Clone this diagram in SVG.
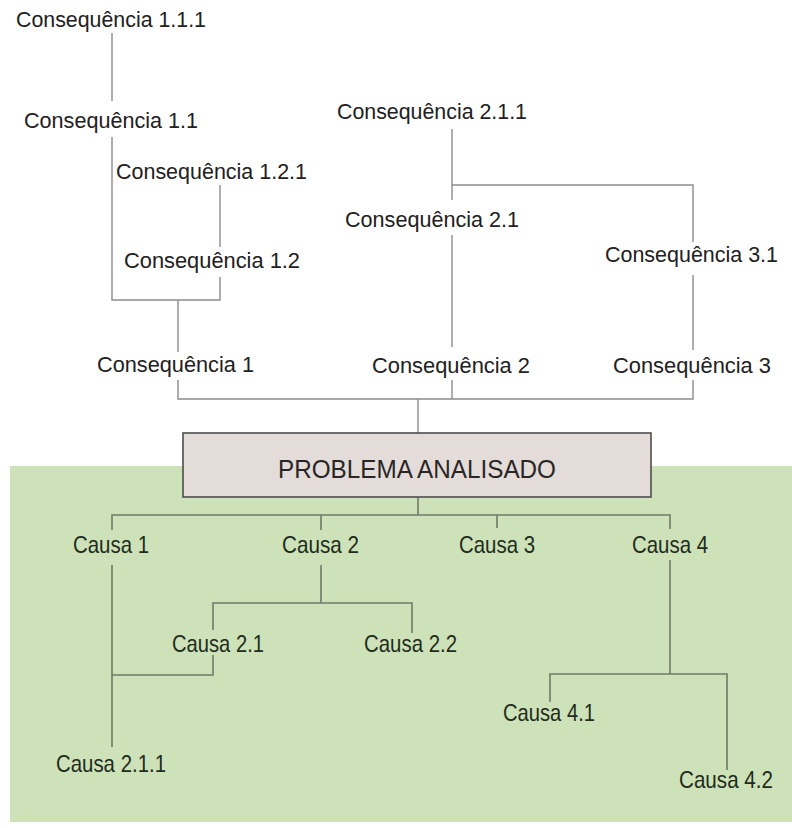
<svg xmlns="http://www.w3.org/2000/svg" width="792" height="828" viewBox="0 0 792 828">
<style>
.cq{font-family:"Liberation Sans",Arial,sans-serif;font-size:21.5px;fill:#222020}
.ca{font-family:"Liberation Sans",Arial,sans-serif;font-size:24px;fill:#222b1c}
.pb{font-family:"Liberation Sans",Arial,sans-serif;font-size:26px;fill:#2a2626}
.lu{fill:none;stroke:#8c8c8c;stroke-width:1.4}
.ll{fill:none;stroke:#6f7b69;stroke-width:1.6}
</style>
<rect x="0" y="0" width="792" height="828" fill="#ffffff"/>
<rect x="10" y="466" width="782" height="356" fill="#cde2b8"/>
<g id="connectors">
<path class="lu" d="M112 33V101"/>
<path class="lu" d="M112 137V300H220V277"/>
<path class="lu" d="M220 185V247"/>
<path class="lu" d="M178 300V352"/>
<path class="lu" d="M178 380V399H693V380"/>
<path class="lu" d="M452 380V399"/>
<path class="lu" d="M418 399V433"/>
<path class="lu" d="M452 129V200"/>
<path class="lu" d="M452 185H693V242"/>
<path class="lu" d="M452 235V347"/>
<path class="lu" d="M693 275V350"/>
<path class="ll" d="M418 497V515"/>
<path class="ll" d="M112 530V515H670V529"/>
<path class="ll" d="M321 515V530"/>
<path class="ll" d="M497 515V528"/>
<path class="ll" d="M112 565V747"/>
<path class="ll" d="M321 565V603"/>
<path class="ll" d="M213 630V603H412V633"/>
<path class="ll" d="M213 655V675H112"/>
<path class="ll" d="M670 560V674"/>
<path class="ll" d="M550 702V674H727V770"/>
</g>
<g id="problema">
<rect x="183" y="433" width="468" height="64" fill="#e3dcd9" stroke="#4d4d4d" stroke-width="1.6"/>
<text class="pb" x="278" y="478" textLength="278" lengthAdjust="spacingAndGlyphs">PROBLEMA ANALISADO</text>
</g>
<g id="c111"><text class="cq" x="16" y="27" textLength="190" lengthAdjust="spacingAndGlyphs">Consequência 1.1.1</text></g>
<g id="c11"><text class="cq" x="24" y="128" textLength="174" lengthAdjust="spacingAndGlyphs">Consequência 1.1</text></g>
<g id="c121"><text class="cq" x="116" y="179" textLength="191" lengthAdjust="spacingAndGlyphs">Consequência 1.2.1</text></g>
<g id="c12"><text class="cq" x="124" y="268" textLength="176" lengthAdjust="spacingAndGlyphs">Consequência 1.2</text></g>
<g id="c1"><text class="cq" x="97" y="372" textLength="157" lengthAdjust="spacingAndGlyphs">Consequência 1</text></g>
<g id="c211"><text class="cq" x="337" y="119" textLength="190" lengthAdjust="spacingAndGlyphs">Consequência 2.1.1</text></g>
<g id="c21"><text class="cq" x="345" y="227" textLength="174" lengthAdjust="spacingAndGlyphs">Consequência 2.1</text></g>
<g id="c2"><text class="cq" x="372" y="373" textLength="158" lengthAdjust="spacingAndGlyphs">Consequência 2</text></g>
<g id="c31"><text class="cq" x="605" y="262" textLength="173" lengthAdjust="spacingAndGlyphs">Consequência 3.1</text></g>
<g id="c3"><text class="cq" x="613" y="373" textLength="158" lengthAdjust="spacingAndGlyphs">Consequência 3</text></g>
<g id="k1"><text class="ca" x="73" y="553" textLength="76" lengthAdjust="spacingAndGlyphs">Causa 1</text></g>
<g id="k2"><text class="ca" x="282" y="553" textLength="77" lengthAdjust="spacingAndGlyphs">Causa 2</text></g>
<g id="k3"><text class="ca" x="459" y="553" textLength="76" lengthAdjust="spacingAndGlyphs">Causa 3</text></g>
<g id="k4"><text class="ca" x="632" y="553" textLength="76" lengthAdjust="spacingAndGlyphs">Causa 4</text></g>
<g id="k21"><text class="ca" x="172" y="652" textLength="92" lengthAdjust="spacingAndGlyphs">Causa 2.1</text></g>
<g id="k22"><text class="ca" x="364" y="652" textLength="93" lengthAdjust="spacingAndGlyphs">Causa 2.2</text></g>
<g id="k211"><text class="ca" x="56" y="772" textLength="110" lengthAdjust="spacingAndGlyphs">Causa 2.1.1</text></g>
<g id="k41"><text class="ca" x="503" y="721" textLength="92" lengthAdjust="spacingAndGlyphs">Causa 4.1</text></g>
<g id="k42"><text class="ca" x="679" y="788" textLength="94" lengthAdjust="spacingAndGlyphs">Causa 4.2</text></g>
</svg>
